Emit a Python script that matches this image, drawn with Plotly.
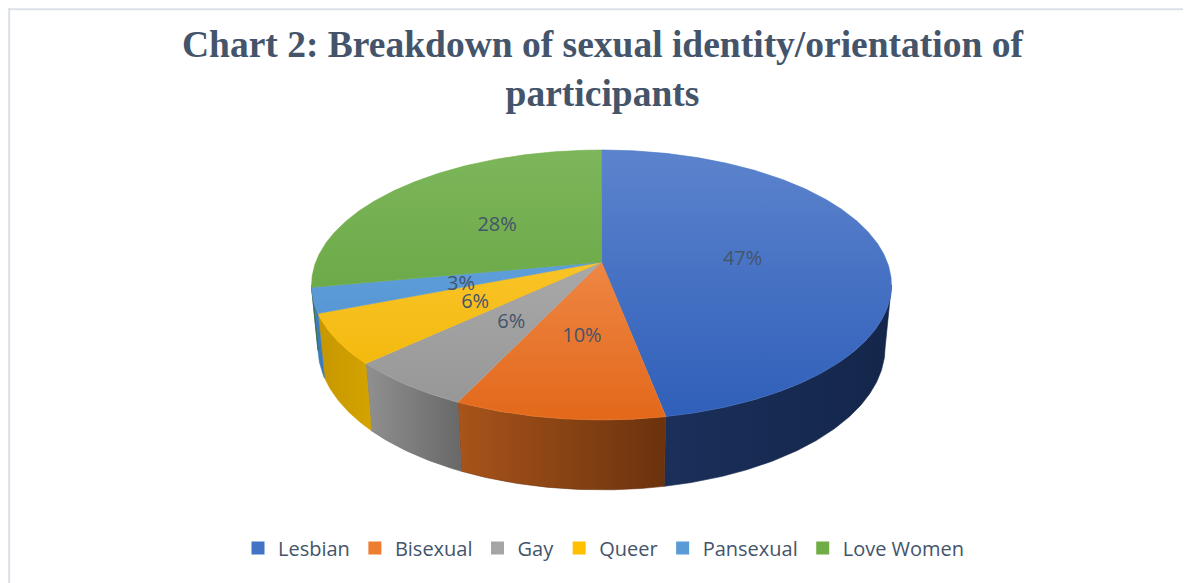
import numpy as np
import plotly.graph_objects as go

# ---- data ----
categories = ["Lesbian", "Bisexual", "Gay", "Queer", "Pansexual", "Love Women"]
values = [47, 10, 6, 6, 3, 28]
labels = [f"{v}%" for v in values]
title_text = "<b>Chart 2: Breakdown of sexual identity/orientation of<br>participants</b>"

# ---- styles ----
base_colors = ["#4472C4", "#ED7D31", "#A5A5A5", "#FFC000", "#5B9BD5", "#70AD47"]
top_light = ["#5C83CD", "#F59C62", "#B6B6B6", "#FFCF45", "#70AEE6", "#7DB65B"]
top_dark = ["#2F5FB9", "#E3681A", "#959595", "#F1B400", "#4688C8", "#5C9E36"]
side_left = ["#1A2F5A", "#A8541A", "#909090", "#C69700", "#3F80C2", "#4F7F31"]
side_right = ["#14264A", "#6B320D", "#686868", "#D4A300", "#3A78B6", "#436B2A"]
text_color = "#44546A"

W, H = 1191, 583
OFF = 8                         # page body margin of the browser
CX, CY = 601.5, 262.0          # projected pie centre (pixels)
FOCAL, DIST = 1490.0, 5.215     # perspective camera
TILT = np.radians(27.3)
THICK = 0.248                   # pie thickness (relative to radius)
LABEL_DROP = 4                  # data labels sit slightly below the projected point
S, C = np.sin(TILT), np.cos(TILT)


def proj(theta_deg, r=1.0, w=0.0):
    th = np.radians(theta_deg)
    u = r * np.sin(th)
    v = r * np.cos(th)
    yup = w * C + v * S
    depth = DIST + v * C - w * S
    px = CX + FOCAL * u / depth
    py = CY - FOCAL * yup / depth
    return px, H - py


total = float(sum(values))
edges = np.concatenate([[0.0], np.cumsum(values)]) / total * 360.0
vis_lo = np.degrees(np.arccos(-C / DIST))
vis_hi = 360.0 - vis_lo

fig = go.Figure()

# side walls
for i, cat in enumerate(categories):
    lo, hi = max(edges[i], vis_lo), min(edges[i + 1], vis_hi)
    if hi <= lo:
        continue
    t = np.linspace(lo, hi, max(4, int((hi - lo) * 2)))
    xt, yt = proj(t)
    xb, yb = proj(t[::-1], w=-THICK)
    xs = np.concatenate([xt, xb, xt[:1]])
    ys = np.concatenate([yt, yb, yt[:1]])
    fig.add_trace(go.Scatter(
        x=xs, y=ys, mode="lines", fill="toself",
        line=dict(width=0.6, color=side_right[i]),
        fillgradient=dict(type="horizontal",
                          colorscale=[[0, side_left[i]], [1, side_right[i]]],
                          start=float(xs.min()), stop=float(xs.max())),
        hoverinfo="skip", showlegend=False))

# top faces
y_bot = proj(180.0)[1]
y_top = proj(0.0)[1]
cx0, cy0 = proj(0.0, r=0.0)
for i, cat in enumerate(categories):
    a0, a1 = edges[i], edges[i + 1]
    t = np.linspace(a0, a1, max(4, int((a1 - a0) * 2)))
    xa, ya = proj(t)
    xs = np.concatenate([[cx0], xa, [cx0]])
    ys = np.concatenate([[cy0], ya, [cy0]])
    fig.add_trace(go.Scatter(
        x=xs, y=ys, mode="lines", fill="toself",
        line=dict(width=0.6, color=base_colors[i]),
        fillgradient=dict(type="vertical",
                          colorscale=[[0, top_dark[i]], [1, top_light[i]]],
                          start=float(y_bot), stop=float(y_top)),
        hoverinfo="skip", showlegend=False))

# data labels
mids = (edges[:-1] + edges[1:]) / 2.0
lx, ly = proj(mids, r=0.5)
fig.add_trace(go.Scatter(
    x=lx, y=ly - LABEL_DROP, mode="text", text=labels,
    textfont=dict(family="Open Sans", size=20, color=text_color),
    hoverinfo="skip", showlegend=False))

# legend entries
for i, cat in enumerate(categories):
    fig.add_trace(go.Scatter(
        x=[None], y=[None], mode="markers", name=cat,
        marker=dict(symbol="square", size=13, color=base_colors[i])))

fig.add_annotation(
    x=602, y=H - 22, xref="x", yref="y", text=title_text, showarrow=False,
    xanchor="center", yanchor="top",
    font=dict(family="Liberation Serif", size=37.5, color=text_color))

# chart frame (top and left edges)
fig.add_shape(type="line", xref="paper", yref="paper", x0=0, x1=1, y0=0.998, y1=0.998,
              line=dict(color="#DCE1E8", width=2))
fig.add_shape(type="line", xref="paper", yref="paper", x0=0.001, x1=0.001, y0=0, y1=1,
              line=dict(color="#DCE1E8", width=2))

fig.update_layout(
    width=W - OFF, height=H - OFF, autosize=False,
    margin=dict(l=0, r=0, t=0, b=0),
    paper_bgcolor="white", plot_bgcolor="white",
    xaxis=dict(range=[OFF, W], visible=False, fixedrange=True),
    yaxis=dict(range=[0, H - OFF], visible=False, fixedrange=True),
    legend=dict(orientation="h", x=(604 - OFF) / (W - OFF), xanchor="center",
                y=(H - 548) / (H - OFF), yanchor="middle",
                font=dict(family="Open Sans", size=20, color=text_color),
                itemwidth=30, bgcolor="rgba(0,0,0,0)"),
    showlegend=True,
)

fig.write_html("out.html")
